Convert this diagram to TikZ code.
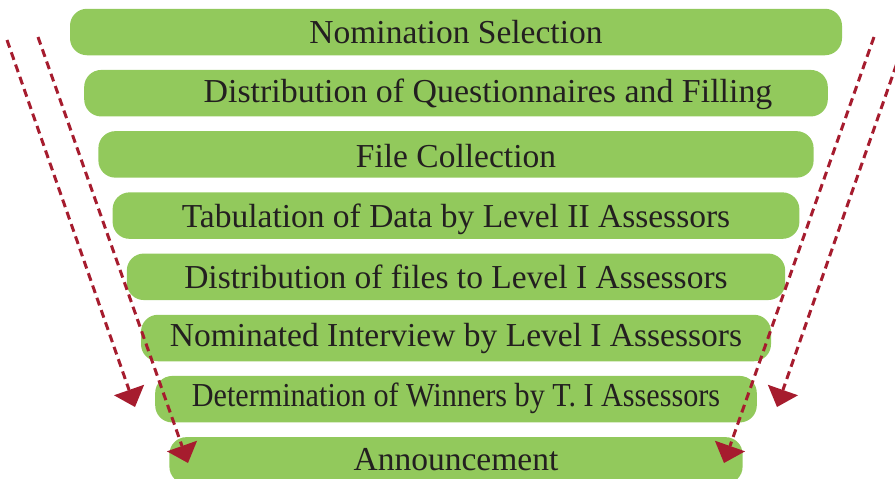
\documentclass[tikz,border=0pt]{standalone}
\usepackage{fontspec}
\setmainfont{Liberation Serif}
\usepackage{xcolor}
\usepackage{tikz}
\usetikzlibrary{arrows.meta}
\definecolor{barGreen}{RGB}{146,201,92}
\definecolor{arrRed}{RGB}{166,28,46}
\definecolor{txtDark}{RGB}{35,31,32}

\begin{document}
\begin{tikzpicture}[
  x=1pt, y=-1pt,
  bar/.style={fill=barGreen, rounded corners=17pt, minimum height=46.5pt, inner sep=0pt},
  lbl/.style={anchor=base, text=txtDark, inner sep=0pt, font=\fontsize{33.5}{40}\selectfont},
  darr/.style={draw=arrRed, line width=3pt, dash pattern=on 8pt off 5pt,
    -{Triangle[length=18pt, width=32pt, fill=arrRed, line width=0pt]}},
]
\useasboundingbox (0,0) rectangle (895,479);
\clip (0,0) rectangle (895,479);
\def\M{456}
% bars, narrowing downwards
\node[bar, minimum width=772pt] (b1) at (\M,32) {};
\node[bar, minimum width=743.6pt] (b2) at (\M,93.2) {};
\node[bar, minimum width=715.2pt] (b3) at (\M,154.4) {};
\node[bar, minimum width=686.8pt] (b4) at (\M,215.6) {};
\node[bar, minimum width=658.4pt] (b5) at (\M,276.8) {};
\node[bar, minimum width=630pt] (b6) at (\M,338) {};
\node[bar, minimum width=601.6pt] (b7) at (\M,399.2) {};
\node[bar, minimum width=573.2pt] (b8) at (\M,460.4) {};
% labels on baselines
\node[lbl] (t1) at (\M,43) {Nomination Selection};
\node[lbl] (t2) at (488,102.7) {\scalebox{1.012}[1]{Distribution of Questionnaires and Filling}};
\node[lbl] (t3) at (\M,167) {File Collection};
\node[lbl] (t4) at (\M,227) {Tabulation of Data by Level II Assessors};
\node[lbl] (t5) at (\M,288) {Distribution of files to Level I Assessors};
\node[lbl] (t6) at (\M,346.7) {Nominated Interview by Level I Assessors};
\node[lbl] (t7) at (\M,406.7) {\scalebox{0.9}[1]{Determination of Winners by T. I Assessors}};
\node[lbl] (t8) at (\M,470) {Announcement};
% dashed arrows, left pair and mirrored right pair
\coordinate (lo0) at (7,40);   \coordinate (lo1) at (135,407);
\coordinate (li0) at (38,37);  \coordinate (li1) at (188,463);
\coordinate (ro0) at (905,40); \coordinate (ro1) at (777,407);
\coordinate (ri0) at (874,37); \coordinate (ri1) at (724,463);
\draw[darr] (lo0) -- (lo1);
\draw[darr] (li0) -- (li1);
\draw[darr] (ro0) -- (ro1);
\draw[darr] (ri0) -- (ri1);
\end{tikzpicture}
\end{document}
